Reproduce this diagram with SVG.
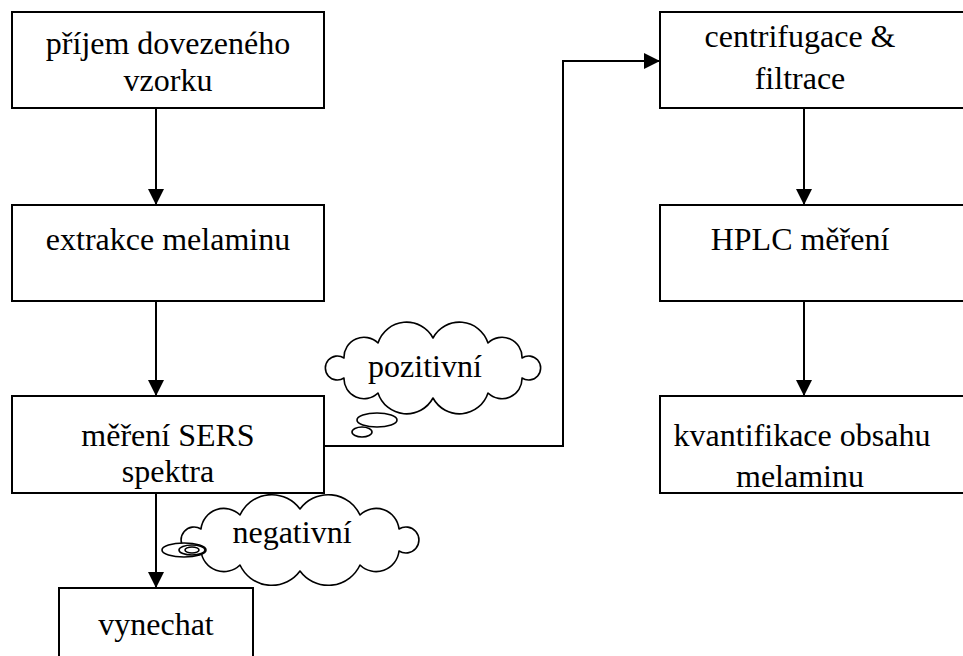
<svg xmlns="http://www.w3.org/2000/svg" width="963" height="656" viewBox="0 0 963 656">
  <style>
    .box { fill: #ffffff; stroke: #000000; stroke-width: 2; }
    .lbl { font-family: "Liberation Serif", "Times New Roman", serif; font-size: 32px; fill: #000000; text-anchor: middle; }
    .wire { fill: none; stroke: #000000; stroke-width: 2; }
    .cloud { fill: #ffffff; stroke: #000000; stroke-width: 1.6; stroke-linejoin: round; }
  </style>
  <defs>
    <marker id="arrow" viewBox="0 0 16 16" refX="16" refY="8" markerWidth="16" markerHeight="16" markerUnits="userSpaceOnUse" orient="auto">
      <path d="M0,0 L16,8 L0,16 Z" fill="#000000"/>
    </marker>
  </defs>

  <rect width="963" height="656" fill="#ffffff"/>

  <!-- connectors -->
  <g id="connectors">
    <line class="wire" x1="156" y1="108" x2="156" y2="205" marker-end="url(#arrow)"/>
    <line class="wire" x1="156" y1="301" x2="156" y2="396" marker-end="url(#arrow)"/>
    <line class="wire" x1="156" y1="493" x2="156" y2="588" marker-end="url(#arrow)"/>
    <polyline class="wire" points="324,446 563,446 563,61 660,61" marker-end="url(#arrow)"/>
    <line class="wire" x1="804" y1="108" x2="804" y2="205" marker-end="url(#arrow)"/>
    <line class="wire" x1="804" y1="301" x2="804" y2="396" marker-end="url(#arrow)"/>
  </g>

  <!-- left column -->
  <g id="prijem">
    <rect class="box" x="12" y="12" width="312" height="96"/>
    <text class="lbl" x="168" y="54">příjem dovezeného</text>
    <text class="lbl" x="168" y="91">vzorku</text>
  </g>
  <g id="extrakce">
    <rect class="box" x="12" y="205" width="312" height="96"/>
    <text class="lbl" x="168" y="250">extrakce melaminu</text>
  </g>
  <g id="sers">
    <rect class="box" x="12" y="396" width="312" height="97"/>
    <text class="lbl" x="168" y="446">měření SERS</text>
    <text class="lbl" x="168" y="482">spektra</text>
  </g>
  <g id="vynechat">
    <rect class="box" x="59" y="588" width="194" height="80"/>
    <text class="lbl" x="156" y="635">vynechat</text>
  </g>

  <!-- right column -->
  <g id="centrifugace">
    <rect class="box" x="660" y="12" width="320" height="96"/>
    <text class="lbl" x="800" y="47">centrifugace &amp;</text>
    <text class="lbl" x="800" y="89">filtrace</text>
  </g>
  <g id="hplc">
    <rect class="box" x="660" y="205" width="320" height="96"/>
    <text class="lbl" x="800" y="250">HPLC měření</text>
  </g>
  <g id="kvantifikace">
    <rect class="box" x="660" y="396" width="320" height="97"/>
    <text class="lbl" x="802" y="446">kvantifikace obsahu</text>
    <text class="lbl" x="800" y="487">melaminu</text>
  </g>

  <!-- callouts -->
  <g id="pozitivni">
    <path class="cloud" d="M522,358 A12,12 0 1 1 522,378 A20,20 0 0 1 488,393 A30,30 0 0 1 433,398 A30,30 0 0 1 378,393 A20,20 0 0 1 344,378 A12,12 0 1 1 344,358 A20,20 0 0 1 378,343 A30,30 0 0 1 433,338 A30,30 0 0 1 488,343 A20,20 0 0 1 522,358 Z"/>
    <ellipse class="cloud" cx="377" cy="420" rx="20" ry="7"/>
    <ellipse class="cloud" cx="362" cy="432" rx="10" ry="5"/>
    <text class="lbl" x="425" y="377">pozitivní</text>
  </g>
  <g id="negativni">
    <path class="cloud" d="M399,529 A13,13 0 1 1 399,551 A23,23 0 0 1 360,565 A35,35 0 0 1 300,571 A35,35 0 0 1 240,565 A23,23 0 0 1 201,551 A13,13 0 1 1 201,529 A23,23 0 0 1 240,515 A35,35 0 0 1 300,509 A35,35 0 0 1 360,515 A23,23 0 0 1 399,529 Z"/>
    <ellipse class="cloud" cx="184" cy="550" rx="22" ry="7"/>
    <ellipse class="cloud" cx="192" cy="550" rx="13" ry="5"/>
    <ellipse class="cloud" cx="192" cy="550" rx="7" ry="3"/>
    <text class="lbl" x="292" y="543">negativní</text>
  </g>
</svg>
